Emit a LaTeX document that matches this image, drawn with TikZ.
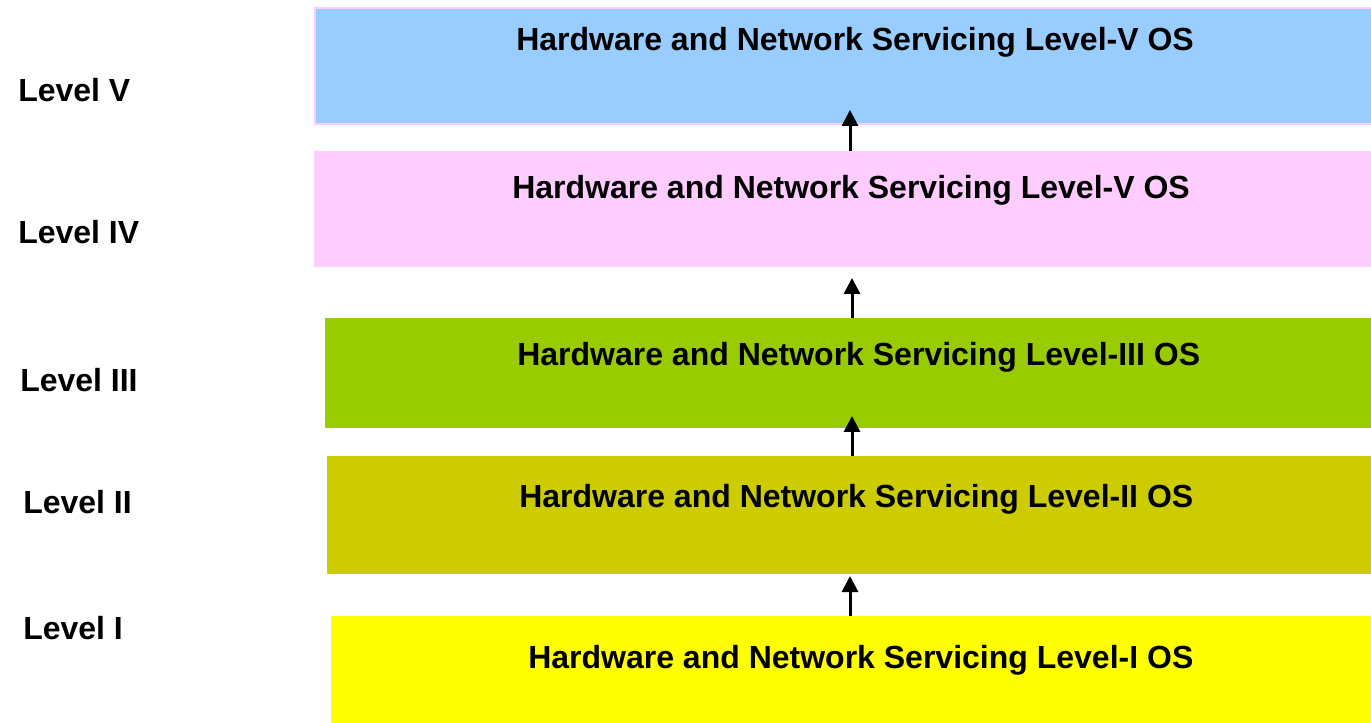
\documentclass[tikz,border=0pt]{standalone}
\usepackage{fontspec}
\setmainfont{Liberation Sans}
\usetikzlibrary{arrows.meta}
\definecolor{cblue}{HTML}{99CCFF}
\definecolor{cpink}{HTML}{FFCCFF}
\definecolor{cgreen}{HTML}{99CC00}
\definecolor{colive}{HTML}{CCCC00}
\definecolor{cyellow}{HTML}{FFFF00}
\tikzset{
  x=0.75pt, y=-0.75pt,
  levbox/.style={anchor=north west, inner sep=0pt, outer sep=0pt, draw=none},
  txt/.style={anchor=base west, inner sep=0pt, font=\fontsize{24}{28}\selectfont\bfseries},
  uparrow/.style={line width=2.25pt, -{Triangle[length=12pt,width=12pt]}}
}
\begin{document}
\begin{tikzpicture}
\useasboundingbox (0,0) rectangle (1371,723);
% boxes
\node[levbox, fill=cblue, draw=cpink, line width=1.5pt, minimum width=795pt, minimum height=87pt] (b5) at (315,8) {};
\node[levbox, fill=cpink, minimum width=795pt, minimum height=87pt] (b4) at (314,151) {};
\node[levbox, fill=cgreen, minimum width=786.75pt, minimum height=82.5pt] (b3) at (325,318) {};
\node[levbox, fill=colive, minimum width=785.25pt, minimum height=88.5pt] (b2) at (327,456) {};
\node[levbox, fill=cyellow, minimum width=782.25pt, minimum height=82.5pt] (b1) at (331,616) {};
% box texts
\node[txt] (t5) at (516,51) {Hardware and Network Servicing Level-V OS};
\node[txt] (t4) at (512,199) {Hardware and Network Servicing Level-V OS};
\node[txt] (t3) at (517,366) {Hardware and Network Servicing Level-III OS};
\node[txt] (t2) at (519,508) {Hardware and Network Servicing Level-II OS};
\node[txt] (t1) at (528,668) {Hardware and Network Servicing Level-I OS};
% level labels
\node[txt] (l5) at (18,102) {Level V};
\node[txt] (l4) at (18,244) {Level IV};
\node[txt] (l3) at (20,392) {Level III};
\node[txt] (l2) at (23,513) {Level II};
\node[txt] (l1) at (23,639) {Level I};
% arrow tips
\coordinate (a5) at (850,110);
\coordinate (a4) at (852,278);
\coordinate (a3) at (852,416);
\coordinate (a2) at (850,576);
\draw[uparrow] (b4.north -| a5) -- (a5);
\draw[uparrow] (b3.north -| a4) -- (a4);
\draw[uparrow] (b2.north -| a3) -- (a3);
\draw[uparrow] (b1.north -| a2) -- (a2);
\end{tikzpicture}
\end{document}
